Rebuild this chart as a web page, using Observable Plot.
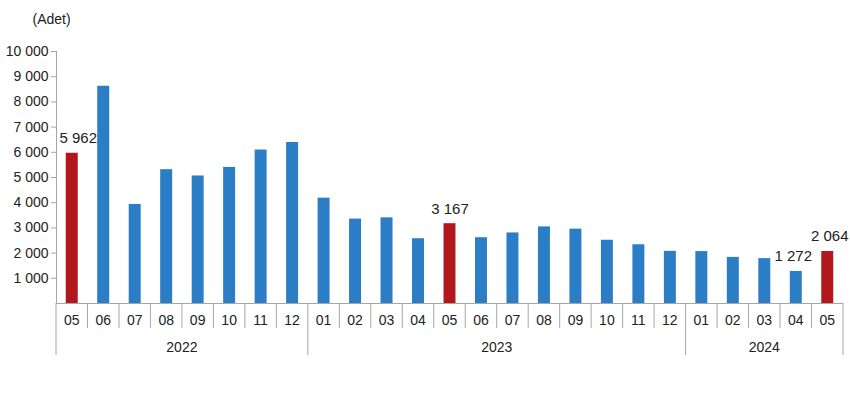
<!DOCTYPE html>
<html>
<head>
<meta charset="utf-8">
<script src="https://cdn.jsdelivr.net/npm/d3@7"></script>
<script src="https://cdn.jsdelivr.net/npm/@observablehq/plot@0.6"></script>
<style>
  html, body { margin: 0; padding: 0; background: #fff; }
  #chart { width: 850px; height: 402px; }
  svg text { font-family: "Liberation Sans", Arial, sans-serif; }
</style>
</head>
<body>
<div id="chart"></div>
<script>
const years = ["2022","2022","2022","2022","2022","2022","2022","2022",
  "2023","2023","2023","2023","2023","2023","2023","2023","2023","2023","2023","2023",
  "2024","2024","2024","2024","2024"];
const months = ["05","06","07","08","09","10","11","12",
  "01","02","03","04","05","06","07","08","09","10","11","12",
  "01","02","03","04","05"];
const values = [5962, 8620, 3930, 5310, 5060, 5400, 6090, 6390,
  4180, 3350, 3400, 2570, 3167, 2610, 2800, 3040, 2950, 2510, 2330, 2070,
  2060, 1830, 1780, 1272, 2064];
const highlighted = ["2022-05", "2023-05", "2024-05"];
const labelled = ["2022-05", "2023-05", "2024-04", "2024-05"];
const yTicks = [1000,2000,3000,4000,5000,6000,7000,8000,9000,10000];
const yearNames = ["2022", "2023", "2024"];

const data = months.map((m, i) => ({
  key: years[i] + "-" + m, month: m, year: years[i], value: values[i]
}));
const keys = data.map(d => d.key);

const fmt = v => d3.format(",")(v).replace(/,/g, " ");
const blue = "#2b7dc5", red = "#b2171b", grey = "#a6a6a6";

const labelOffsets = {"2022-05": 6, "2023-05": 0, "2024-04": -3, "2024-05": 2};

// custom mark: category separators, month & year labels under the axis
function categoryAxis(index, scales, values, dims) {
  const x = scales.x, y = scales.y;
  const step = x(keys[1]) - x(keys[0]);
  const y0 = y(0);
  const g = d3.create("svg:g");
  data.forEach((d, i) => {
    const cx = x(d.key) + x.bandwidth() / 2;
    const left = cx - step / 2;
    const isYearStart = i === 0 || data[i - 1].year !== d.year;
    g.append("line").attr("x1", left).attr("x2", left)
      .attr("y1", y0).attr("y2", y0 + (isYearStart ? 52 : 25))
      .attr("stroke", grey).attr("stroke-width", 1);
    g.append("text").attr("x", cx).attr("y", y0 + 17)
      .attr("text-anchor", "middle").attr("dominant-baseline", "central")
      .attr("font-size", 14).attr("fill", "#222").text(d.month);
  });
  const lastCx = x(keys[keys.length - 1]) + x.bandwidth() / 2;
  const right = lastCx + step / 2;
  g.append("line").attr("x1", right).attr("x2", right)
    .attr("y1", y0).attr("y2", y0 + 52).attr("stroke", grey);
  yearNames.forEach(yr => {
    const idx = data.map((d, i) => d.year === yr ? i : -1).filter(i => i >= 0);
    const a = x(keys[idx[0]]) + x.bandwidth() / 2 - step / 2;
    const b = x(keys[idx[idx.length - 1]]) + x.bandwidth() / 2 + step / 2;
    g.append("text").attr("x", (a + b) / 2).attr("y", y0 + 44)
      .attr("text-anchor", "middle").attr("dominant-baseline", "central")
      .attr("font-size", 14).attr("fill", "#222").text(yr);
  });
  return g.node();
}

const plot = Plot.plot({
  width: 850,
  height: 402,
  marginTop: 51,
  marginBottom: 99,
  marginLeft: 56,
  marginRight: 7,
  style: {fontFamily: "Liberation Sans, Arial, sans-serif", fontSize: "14px", color: "#222", background: "#fff"},
  x: {domain: keys, paddingInner: 0.62, paddingOuter: 0.31, align: 0.5, round: false, axis: null},
  y: {domain: [0, 10000], axis: null},
  marks: [
    Plot.axisY(yTicks, {anchor: "left", label: null, tickFormat: fmt, tickSize: 5, tickPadding: 3, stroke: grey, fontSize: 14, fill: "#222"}),
    Plot.frame({anchor: "left", stroke: grey}),
    Plot.barY(data, {x: "key", y: "value", fill: d => highlighted.includes(d.key) ? red : blue}),
    Plot.ruleY([0], {stroke: grey}),
    ...labelled.map(k => Plot.text(data.filter(d => d.key === k), {
      x: "key", y: "value", text: d => fmt(d.value), dy: -15, dx: labelOffsets[k],
      fontSize: 15, fill: "#222"
    })),
    categoryAxis,
    Plot.text(["(Adet)"], {frameAnchor: "top-left", dx: -24, dy: -37, fontSize: 14, fill: "#222", textAnchor: "start"})
  ]
});
document.getElementById("chart").appendChild(plot);
</script>
</body>
</html>
